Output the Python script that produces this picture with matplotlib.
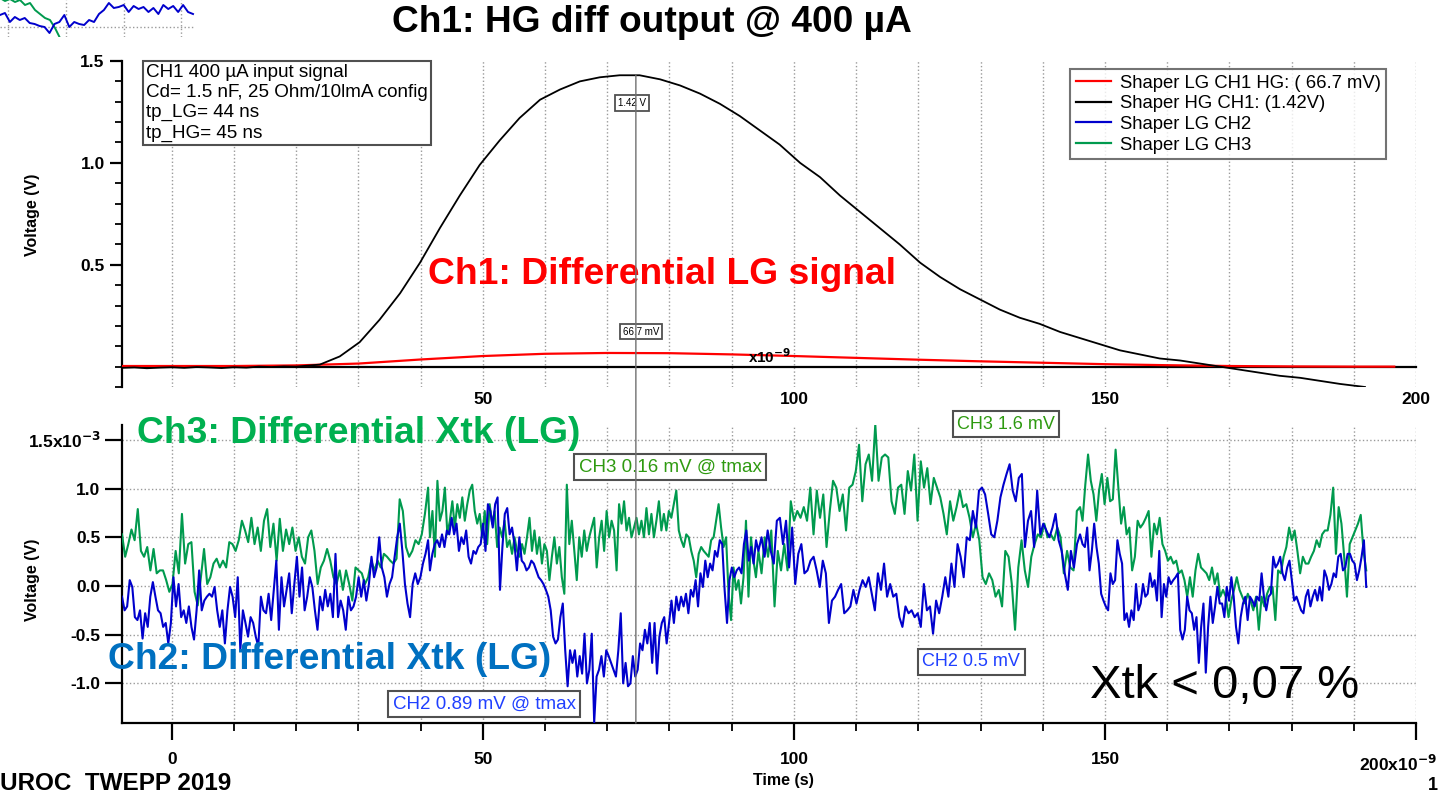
import numpy as np
import matplotlib
matplotlib.use("Agg")
import matplotlib.pyplot as plt
from matplotlib.lines import Line2D
from matplotlib.patches import ConnectionPatch

plt.rcParams['font.family'] = ['Liberation Sans', 'DejaVu Sans']

# ---- top panel: CH1 shaper outputs (time in ns, volts) ----
hg_t = [-8, -6, -4, -2, 0, 2, 4, 6, 8, 10, 12, 14, 16, 18, 20,
        23.8, 27, 30.2, 33.4, 36.7, 39.9, 43.1, 46.3, 49.5, 52.7, 55.9, 59.2, 62.4, 65.6,
        68.8, 72.0, 75.2, 78.5, 81.7, 84.9, 88.1, 91.3, 94.5, 97.7, 101, 104.2, 107.4,
        110.6, 113.8, 117, 120.3, 123.5, 126.7, 129.9, 133.1, 136.3, 139.5, 142.8, 146,
        149.2, 152.4, 155.6, 158.8, 162.1, 165.3, 168.5, 171.7, 174.9, 178.1, 181.4,
        184.6, 187.8, 191.8]
hg_v = [-0.006, -0.004, -0.008, -0.005, -0.003, -0.006, -0.002, -0.004, -0.007, -0.003,
        -0.005, 0.0, -0.002, 0.001, 0.0,
        0.01, 0.05, 0.12, 0.23, 0.36, 0.51, 0.68, 0.84, 0.99, 1.11, 1.22, 1.31, 1.36, 1.40,
        1.42, 1.43, 1.43, 1.41, 1.38, 1.34, 1.29, 1.23, 1.16, 1.09, 1.00, 0.93, 0.84,
        0.76, 0.68, 0.60, 0.51, 0.44, 0.38, 0.33, 0.28, 0.24, 0.21, 0.17, 0.14,
        0.11, 0.08, 0.06, 0.04, 0.03, 0.015, 0.0, -0.015, -0.03, -0.045, -0.055,
        -0.07, -0.085, -0.10]
lg_t = [-8, 0, 10, 20, 30, 40, 50, 60, 70, 80, 90, 100, 110, 120, 130, 140, 150,
        160, 170, 180, 190, 196.5]
lg_v = [0.003, 0.003, 0.003, 0.006, 0.015, 0.035, 0.052, 0.063, 0.067, 0.066, 0.060,
        0.052, 0.043, 0.034, 0.026, 0.019, 0.012, 0.007, 0.003, 0.001, 0.0, 0.0]

# ---- bottom panel: crosstalk on CH2 / CH3 (mV), read in four time windows ----
windows = [(-8.0, 41.2), (41.5, 94.3), (94.8, 146.0), (146.4, 192.0)]

ch3_a = [0.53, 0.30, 0.43, 0.58, 0.47, 0.79, 0.36, 0.30, 0.40, 0.16, 0.38, 0.13, 0.16, 0.16,
         0.06, -0.06, 0.02, 0.36, 0.13, 0.74, 0.23, 0.43, 0.45, -0.06, -0.20, 0.09, 0.38,
         0.02, 0.09, 0.23, 0.28, 0.19, 0.26, 0.19, 0.45, 0.43, 0.36, 0.47, 0.67, 0.57, 0.45,
         0.70, 0.43, 0.60, 0.36, 0.67, 0.79, 0.40, 0.64, 0.26, 0.69, 0.36, 0.58, 0.43, 0.60,
         0.36, 0.50, 0.30, 0.23, 0.50, 0.57, 0.36, 0.02, 0.19, 0.26, 0.38, 0.26, 0.09, 0.02,
         0.16, -0.04, 0.16, 0.02, -0.15, 0.19, 0.16, 0.13, 0.02, 0.09, 0.26, 0.16, 0.26,
         0.19, 0.33, 0.30, 0.26, 0.23, 0.28, 0.89, 0.77, 0.40, 0.30, 0.36, 0.47, 0.43, 0.53,
         0.74, 1.01]
ch3_b = [0.50, 0.77, 0.30, 1.08, 0.67, 0.77, 1.01, 0.53, 0.67, 0.87, 0.60, 0.84, 0.70, 0.91,
         0.67, 0.84, 0.98, 1.04, 0.77, 0.64, 0.74, 0.50, 0.77, 0.43, 0.84, 0.64, 0.77, 0.40,
         0.60, 0.50, 0.67, 0.40, 0.47, 0.33, 0.50, 0.36, 0.30, 0.43, 0.33, 0.50, 0.70, 0.36,
         0.57, 0.33, 0.50, 0.23, 0.43, 0.36, 0.06, 0.30, 0.50, 0.23, 0.40, 0.09, -0.08, 1.04,
         0.43, 0.67, 0.36, 0.06, 0.50, 0.30, 0.57, 0.36, 0.50, 0.60, 0.70, 0.19, 0.50, 0.67,
         0.36, 0.77, 0.50, 0.67, 0.57, 0.16, 0.84, 0.64, 0.87, 0.57, 0.70, 0.50, 0.60, 0.70,
         0.53, 0.67, 0.50, 0.80, 0.53, 0.74, 0.50, 0.67, 0.87, 0.57, 0.74, 0.57, 0.77, 0.70,
         0.84, 0.98, 0.57, 0.47, 0.40, 0.53, 0.50, 0.36, 0.26, 0.09, 0.33, 0.40, 0.36, 0.33,
         0.30, 0.47, 0.50, 0.67, 0.84, 0.60, 0.40, 0.50, -0.08, -0.35, 0.19, -0.04, 0.06,
         -0.18, 0.09, 0.67, -0.11, 0.50, 0.26, 0.09, 0.36]
ch3_c = [0.13, 0.50, 0.30, 0.57, -0.21, 0.36, 0.16, 0.43, 0.16, 0.87, 0.67, 0.77, 0.70, 0.81,
         0.67, 1.01, 0.53, 0.98, 0.70, 0.94, 0.40, 0.77, 1.08, 1.01, 0.77, 0.94, 0.57, 1.01,
         1.04, 1.18, 1.45, 0.87, 1.25, 1.35, 1.08, 1.66, 1.08, 1.32, 1.35, 1.32, 0.87, 0.74,
         1.01, 1.04, 0.74, 1.18, 0.98, 1.35, 0.67, 1.28, 1.01, 1.21, 0.84, 1.11, 1.01, 0.91,
         0.74, 0.53, 0.87, 0.67, 0.81, 0.98, 0.81, 0.84, 0.70, 0.50, 0.64, 0.47, 0.09, 0.02,
         0.13, 0.06, -0.11, -0.04, -0.21, 0.36, 0.30, 0.02, -0.45, 0.19, 0.47, 0.16, -0.01,
         0.30, 0.43, 0.53, 0.50, 0.64, 0.50, 0.53, 0.47, 0.60, 0.50, 0.13, 0.36, 0.19, 0.16,
         0.77, 0.81]
ch3_d = [0.67, 1.04, 1.35, 1.08, 0.94, 0.67, 0.98, 1.15, 0.84, 1.11, 0.87, 0.89, 1.40, 1.01,
         0.64, 0.81, 0.53, 0.60, 0.16, 0.30, 0.67, 0.60, 0.64, 0.70, 0.77, 0.30, 0.64, 0.53,
         0.70, 0.43, 0.36, 0.26, 0.30, 0.23, 0.26, 0.13, 0.16, 0.06, -0.11, 0.09, -0.11, 0.16,
         0.33, 0.19, 0.16, 0.13, 0.06, 0.19, 0.02, 0.13, -0.11, -0.04, -0.11, -0.32, -0.15,
         -0.04, 0.09, -0.04, -0.11, -0.18, -0.08, -0.15, -0.25, -0.11, -0.45, -0.11, -0.21,
         -0.08, -0.01, -0.01, -0.35, 0.16, 0.13, 0.30, 0.40, 0.60, 0.47, 0.57, 0.36, 0.13,
         0.30, 0.23, 0.23, 0.30, 0.36, 0.47, 0.40, 0.53, 0.57, 0.57, 0.73, 1.01, 0.33, 0.81,
         0.64, 0.30, -0.11, 0.43, 0.50, 0.57, 0.64, 0.73, 0.36, 0.16]

ch2_a = [-0.11, -0.25, -0.21, 0.06, -0.01, -0.32, -0.35, -0.25, -0.54, -0.28, -0.42, -0.11,
         0.04, -0.11, -0.25, -0.28, -0.42, -0.38, -0.59, -0.38, 0.09, -0.21, 0.02, -0.32,
         -0.25, -0.38, -0.21, -0.42, -0.55, -0.25, 0.16, -0.25, -0.15, -0.11, -0.08, -0.11,
         -0.01, -0.25, -0.42, -0.25, -0.59, -0.25, -0.01, -0.11, -0.32, 0.09, -0.66, -0.25,
         -0.38, -0.52, -0.32, -0.38, -0.52, -0.62, -0.11, -0.25, -0.28, -0.08, -0.35, -0.04,
         0.26, -0.45, 0.09, -0.21, -0.04, 0.13, -0.28, 0.02, 0.30, -0.11, 0.19, -0.25, -0.11,
         0.09, -0.01, -0.25, -0.45, -0.11, -0.25, -0.04, -0.21, -0.08, -0.32, 0.33, -0.32,
         -0.15, -0.25, -0.45, -0.11, -0.25, -0.21, -0.11, 0.09, -0.11, 0.06, -0.15, 0.02,
         0.30, 0.09, 0.19, 0.50, 0.19, 0.09, -0.11, 0.02, 0.09, 0.30, 0.50, 0.64, 0.36, 0.02,
         -0.18, -0.32, 0.02, 0.13, 0.02, 0.09, 0.23, 0.33, 0.47]
ch2_b = [0.16, 0.33, 0.43, 0.47, 0.40, 0.53, 0.40, 0.57, 0.53, 0.70, 0.53, 0.64, 0.36, 0.50,
         0.43, 0.57, 0.30, 0.23, 0.36, 0.33, 0.40, 0.43, 0.64, 0.36, 0.84, 0.77, 0.60, 0.84,
         0.91, -0.04, 0.40, 0.74, 0.80, 0.53, 0.60, 0.43, 0.16, 0.50, 0.26, 0.23, 0.16, 0.19,
         0.26, 0.23, 0.16, 0.09, 0.06, 0.02, -0.04, -0.11, -0.25, -0.52, -0.59, -0.55, -0.32,
         -0.18, -0.66, -1.03, -0.66, -0.79, -0.66, -0.93, -0.72, -0.90, -0.49, -1.00, -0.86,
         -0.49, -1.40, -0.93, -0.86, -0.72, -0.93, -0.66, -0.72, -0.79, -0.86, -0.93, -0.66,
         -0.28, -1.00, -0.79, -1.03, -1.00, -0.72, -0.93, -0.86, -0.59, -0.66, -0.45, -0.59,
         -0.38, -0.79, -0.38, -0.90, -0.52, -0.38, -0.32, -0.59, -0.38, -0.15, -0.38, -0.11,
         -0.25, -0.11, -0.21, -0.08, -0.28, -0.04, -0.11, 0.06, -0.21, 0.13, -0.01, 0.26,
         0.09, 0.23, 0.16, 0.36, 0.30, 0.47, 0.43, -0.04, -0.38, 0.06, 0.19, 0.09, 0.16, 0.19,
         0.13, 0.43, 0.57, 0.26, 0.40, 0.23, 0.47, 0.36]
ch2_c = [0.50, 0.30, 0.57, 0.36, 0.23, 0.67, 0.70, 0.43, 0.67, 0.19, 0.60, 0.02, 0.33, 0.43,
         0.13, 0.16, 0.26, 0.30, 0.16, -0.01, 0.26, 0.13, -0.38, -0.15, -0.11, -0.04, 0.02,
         -0.28, -0.25, -0.21, -0.04, -0.18, -0.04, 0.06, -0.01, 0.09, -0.08, -0.25, 0.13,
         -0.04, 0.23, -0.11, 0.02, -0.11, -0.08, -0.32, -0.42, -0.21, -0.28, -0.25, -0.32,
         -0.28, -0.42, 0.02, -0.25, -0.21, -0.49, -0.15, -0.28, -0.11, 0.09, -0.11, 0.23,
         -0.01, 0.43, 0.30, 0.09, 0.50, 0.47, 0.77, 0.60, 0.98, 1.01, 0.94, 0.74, 0.53, 0.50,
         0.67, 0.91, 1.04, 1.15, 1.25, 0.98, 0.87, 1.11, 1.15, 0.40, 0.67, 0.77, 0.40, 0.98,
         0.53, 0.64, 0.57, 0.50, 0.60, 0.74, 0.47, 0.36, 0.13, -0.04, 0.36, 0.19, 0.43, 0.53]
ch2_d = [0.43, 0.40, 0.60, 0.16, 0.36, 0.64, 0.40, 0.23, -0.08, -0.15, -0.21, -0.25, 0.13,
         0.02, 0.06, 0.47, 0.33, 0.23, -0.35, -0.28, -0.42, -0.25, -0.35, 0.02, -0.25, -0.18,
         0.02, -0.11, -0.08, 0.13, -0.01, 0.06, -0.15, 0.36, -0.32, 0.02, -0.11, 0.09, 0.02,
         0.06, 0.09, 0.13, -0.45, -0.55, -0.45, -0.11, -0.25, -0.28, -0.45, -0.32, -0.79,
         -0.42, -0.18, -0.89, -0.42, -0.11, -0.38, -0.21, -0.01, -0.18, -0.18, -0.32, -0.01,
         -0.15, 0.09, -0.11, -0.42, -0.59, -0.32, -0.18, -0.11, -0.35, -0.11, -0.15, -0.21,
         -0.11, -0.15, 0.13, -0.11, -0.25, -0.11, -0.08, 0.30, 0.19, 0.23, 0.30, 0.13, 0.06,
         0.19, 0.26, 0.06, -0.15, -0.11, -0.18, -0.25, -0.28, -0.11, -0.04, -0.21, -0.11,
         -0.04, -0.15, -0.01, -0.15, 0.16, 0.09, -0.04, 0.02, 0.13, 0.09, 0.30, 0.33, 0.16,
         0.19, 0.33, 0.33, 0.26, 0.23, 0.06, 0.16, 0.30, 0.47, -0.01]

cursor_t = 74.6

# leftover snippet of another plot in the slide corner (pixel units)
snip_blue = [15, 13, 22, 17, 20, 18, 23, 24, 26, 27, 33, 24, 22, 15, 27, 22, 24, 25, 20, 22,
             14, 10, 3, 8, 7, 5, 12, 6, 9, 7, 12, 8, 14, 5, 9, 6, 12, 5, 12, 14]
snip_green = [-2, 1, -1, 2, 0, 5, 3, 10, 14, 18, 20, 28, 38]

RED = '#FF0000'
BLUE = '#0000CC'
GREEN = '#009A4E'
GRID = dict(color='#9A9A9A', linestyle=':', linewidth=1.0)


def stitch(parts):
    ts, vs = [], []
    for (lo, hi), vals in zip(windows, parts):
        ts.append(np.linspace(lo, hi, len(vals)))
        vs.append(np.asarray(vals))
    return np.concatenate(ts), np.concatenate(vs)


ch2_t, ch2_v = stitch([ch2_a, ch2_b, ch2_c, ch2_d])
ch3_t, ch3_v = stitch([ch3_a, ch3_b, ch3_c, ch3_d])

W, H = 1449, 792
fig = plt.figure(figsize=(W / 100, H / 100), dpi=100)
L, R = 122 / W, 1416 / W


def style_axis(ax):
    for s in ['top', 'right']:
        ax.spines[s].set_visible(False)
    for s in ['left', 'bottom']:
        ax.spines[s].set_linewidth(1.6)
    ax.tick_params(which='major', length=9, width=1.6, labelsize=12.5)
    ax.tick_params(which='minor', length=5, width=1.3)
    for lab in ax.get_xticklabels() + ax.get_yticklabels():
        lab.set_fontweight('bold')


# ---------------- top panel ----------------
ax1 = fig.add_axes([L, 1 - 387 / H, R - L, 326 / H])
ax1.plot(lg_t, lg_v, color=RED, lw=1.6, zorder=3)
ax1.plot(hg_t, hg_v, color='black', lw=1.3, zorder=4)
ax1.set_xlim(-8, 200)
ax1.set_ylim(-0.1, 1.5)
ax1.spines['bottom'].set_position(('data', 0))
ax1.set_xticks([50, 100, 150, 200])
ax1.set_xticks(np.arange(0, 201, 10), minor=True)
ax1.set_yticks([0.5, 1.0, 1.5])
ax1.set_yticklabels(['0.5', '1.0', '1.5'])
ax1.set_yticks(np.arange(-0.1, 1.51, 0.1), minor=True)
ax1.grid(axis='x', which='both', **GRID)
ax1.set_axisbelow(True)
style_axis(ax1)
ax1.tick_params(axis='x', which='major', pad=18, length=0)
ax1.tick_params(axis='x', which='minor', length=0)

ax1.text(41.2, 0.45, 'Ch1: Differential LG signal', color=RED, fontsize=26.8,
         fontweight='bold', ha='left', va='center', zorder=6)
ax1.text(96.1, 0.05, r'x10$^{\mathbf{-9}}$', fontsize=11, fontweight='bold',
         ha='center', va='center', zorder=6)
small_box = dict(boxstyle='square,pad=0.3', fc='white', ec='#505050', lw=1.3)
ax1.text(74.0, 1.294, '1.42 V', fontsize=7, ha='center', va='center', bbox=small_box, zorder=7)
ax1.text(75.4, 0.172, '66.7 mV', fontsize=7, ha='center', va='center', bbox=small_box, zorder=7)

handles = [Line2D([], [], color=RED, lw=1.6), Line2D([], [], color='black', lw=1.6),
           Line2D([], [], color=BLUE, lw=1.6), Line2D([], [], color=GREEN, lw=1.6)]
labels = ['Shaper LG CH1 HG: ( 66.7 mV)', 'Shaper HG CH1: (1.42V)',
          'Shaper LG CH2', 'Shaper LG CH3']
leg = fig.legend(handles, labels, loc='upper left', bbox_to_anchor=(1070 / W, 1 - 69 / H),
                 fontsize=13.3, frameon=True, fancybox=False, handlelength=1.9,
                 handletextpad=0.5, borderpad=0.3, labelspacing=0.2, borderaxespad=0)
leg.get_frame().set_edgecolor('#505050')
leg.get_frame().set_linewidth(1.5)

fig.text(146 / W, 1 - 64 / H,
         'CH1 400 µA input signal\nCd= 1.5 nF, 25 Ohm/10lmA config\ntp_LG= 44 ns\ntp_HG= 45 ns',
         fontsize=13.6, ha='left', va='top', linespacing=1.24,
         bbox=dict(boxstyle='square,pad=0.15', fc='white', ec='#505050', lw=1.5))

# ---------------- bottom panel ----------------
ax2 = fig.add_axes([L, 1 - 723 / H, R - L, 298 / H])
ax2.plot(ch3_t, ch3_v, color=GREEN, lw=1.5, zorder=3)
ax2.plot(ch2_t, ch2_v, color=BLUE, lw=1.5, zorder=4)
ax2.set_xlim(-8, 200)
ax2.set_ylim(-1.407, 1.653)
ax2.set_xticks([0, 50, 100, 150, 200])
ax2.set_xticklabels(['0', '50', '100', '150', ''])
ax2.set_xticks(np.arange(-0, 201, 10), minor=True)
ax2.set_yticks([-1.0, -0.5, 0.0, 0.5, 1.0, 1.5])
ax2.set_yticklabels(['-1.0', '-0.5', '0.0', '0.5', '1.0', r'1.5x10$^{\mathbf{-3}}$'])
ax2.grid(axis='x', which='both', **GRID)
ax2.grid(axis='y', which='major', **GRID)
ax2.set_axisbelow(True)
style_axis(ax2)
ax2.tick_params(axis='x', which='major', length=12, pad=9)
ax2.tick_params(axis='x', which='minor', length=6)
ax2.tick_params(axis='y', which='major', length=12)

ax2.text(-5.6, 1.57, 'Ch3: Differential Xtk (LG)', color='#00B050', fontsize=26.8,
         fontweight='bold', ha='left', va='center', zorder=6, clip_on=False)
ax2.text(-10.3, -0.76, 'Ch2: Differential Xtk (LG)', color='#0070C0', fontsize=26.8,
         fontweight='bold', ha='left', va='center', zorder=6, clip_on=False)
ax2.text(147.6, -1.03, 'Xtk < 0,07 %', color='black', fontsize=34,
         ha='left', va='center', zorder=6)
note_box = dict(boxstyle='square,pad=0.25', fc='white', ec='#505050', lw=1.5)
ax2.text(80.1, 1.22, 'CH3 0.16 mV @ tmax', color='#2E9A10', fontsize=13.5,
         ha='center', va='center', bbox=note_box, zorder=7)
ax2.text(134.1, 1.66, 'CH3 1.6 mV', color='#2E9A10', fontsize=13,
         ha='center', va='center', bbox=note_box, zorder=7, clip_on=False)
ax2.text(50.2, -1.21, 'CH2 0.89 mV @ tmax', color='#2040FF', fontsize=13.5,
         ha='center', va='center', bbox=note_box, zorder=7)
ax2.text(128.5, -0.78, 'CH2 0.5 mV', color='#2040FF', fontsize=13,
         ha='center', va='center', bbox=note_box, zorder=7)

# cursor across both panels
cur = ConnectionPatch(xyA=(cursor_t, 1.43), coordsA=ax1.transData,
                      xyB=(cursor_t, -1.407), coordsB=ax2.transData,
                      color='#707070', lw=1.0, zorder=2)
fig.add_artist(cur)

# axis labels and slide text
fig.text(32 / W, 1 - 215 / H, 'Voltage (V)', rotation=90, fontsize=11.5, fontweight='bold',
         ha='center', va='center')
fig.text(32 / W, 1 - 580 / H, 'Voltage (V)', rotation=90, fontsize=11.5, fontweight='bold',
         ha='center', va='center')
fig.text(783 / W, 1 - 780 / H, 'Time (s)', fontsize=11.5, fontweight='bold',
         ha='center', va='center')
fig.text(1437 / W, 1 - 764 / H, r'200x10$^{\mathbf{-9}}$', fontsize=12.5, fontweight='bold',
         ha='right', va='center')
fig.text(652 / W, 1 - 22 / H, 'Ch1: HG diff output @ 400 µA', fontsize=26.7,
         fontweight='bold', ha='center', va='center')
fig.text(0, 1 - 783 / H, 'UROC  TWEPP 2019', fontsize=17.5, fontweight='bold',
         ha='left', va='center')
fig.text(1428 / W, 1 - 785 / H, '1', fontsize=13, fontweight='bold', ha='left', va='center')

# corner snippet
axs = fig.add_axes([0, 1 - 37 / H, 195 / W, 37 / H])
axs.plot(np.linspace(0, 60, len(snip_green)), snip_green, color=GREEN, lw=1.4)
axs.plot(np.linspace(0, 193, len(snip_blue)), snip_blue, color=BLUE, lw=1.4)
axs.set_xlim(0, 195)
axs.set_ylim(37, 0)
axs.set_xticks([8, 66, 124, 181])
axs.set_yticks([27])
axs.grid(True, **GRID)
axs.tick_params(length=0, labelbottom=False, labelleft=False)
for s in axs.spines.values():
    s.set_visible(False)

fig.savefig('out.png', dpi=100, facecolor='white')
